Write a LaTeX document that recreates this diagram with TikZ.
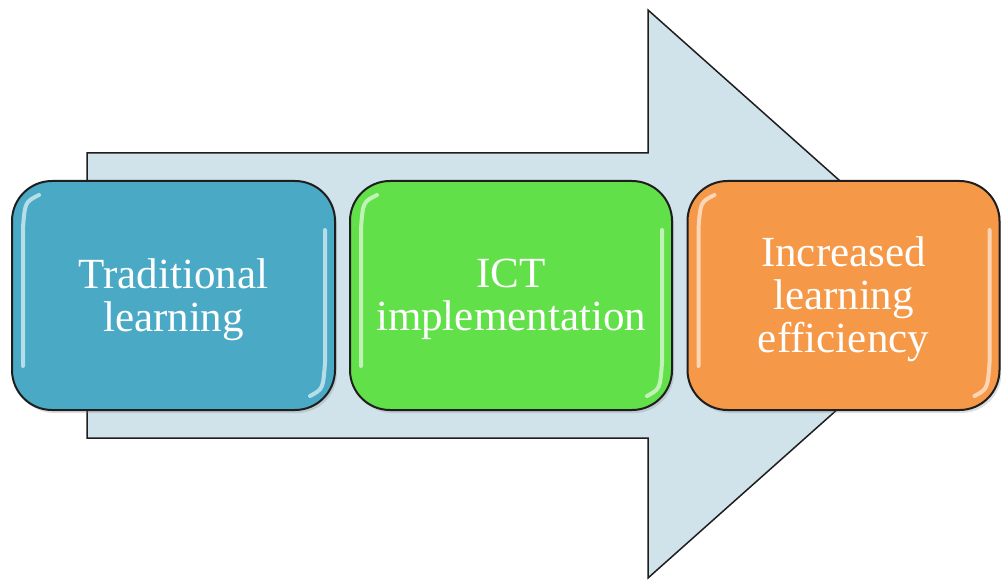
\documentclass[tikz,border=0pt]{standalone}
\usepackage{fontspec}
\setmainfont{Liberation Serif}
\usetikzlibrary{calc,shadows}
\definecolor{arrowfill}{RGB}{208,226,234}
\definecolor{bluebox}{RGB}{74,170,198}
\definecolor{greenbox}{RGB}{98,224,74}
\definecolor{orangebox}{RGB}{245,152,71}
\definecolor{edge}{RGB}{30,30,30}
\tikzset{
  stagebox/.style={draw=edge, line width=2pt, rounded corners=40pt,
    minimum height=229pt, inner sep=0pt,
    drop shadow={opacity=0.25, shadow xshift=2pt, shadow yshift=-3pt}},
  stagetext/.style={align=center, text=white, inner sep=0pt,
    font=\fontsize{43}{43}\selectfont},
  gloss/.style={white, opacity=0.6, line width=4pt, line cap=round}
}
\begin{document}
\begin{tikzpicture}[x=1pt,y=-1pt]
\useasboundingbox (0,0) rectangle (1001,580);
% big arrow
\draw[fill=arrowfill, draw=edge, line width=1.5pt, line join=miter]
  (87,153) -- (648,153) -- (648,10) -- (967,294) -- (648,578) -- (648,438) -- (87,438) -- cycle;
% boxes
\node[stagebox, fill=bluebox, minimum width=323pt] (trad) at (173.5,295.5) {};
\node[stagebox, fill=greenbox, minimum width=322pt] (ict) at (511,295.5) {};
\node[stagebox, fill=orangebox, minimum width=312pt] (inc) at (843.5,295.5) {};
% gloss highlights
\foreach \b in {trad,ict,inc}{
  \draw[gloss] ($(\b.north west)+(28,15)$) .. controls ($(\b.north west)+(14,22)$) .. ($(\b.north west)+(12,48)$) -- ($(\b.south west)+(12,-45)$);
  \draw[gloss] ($(\b.north east)+(-11,50)$) -- ($(\b.south east)+(-11,-48)$) .. controls ($(\b.south east)+(-13,-22)$) .. ($(\b.south east)+(-26,-15)$);
}
% texts
\node[stagetext] (tradtext) at ($(trad.center)+(0,4)$) {Traditional\\learning};
\node[stagetext] (icttext) at ($(ict.center)+(0,4)$) {ICT\\implementation};
\node[stagetext] (inctext) at ($(inc.center)+(0,4)$) {Increased\\learning\\efficiency};
\end{tikzpicture}
\end{document}
